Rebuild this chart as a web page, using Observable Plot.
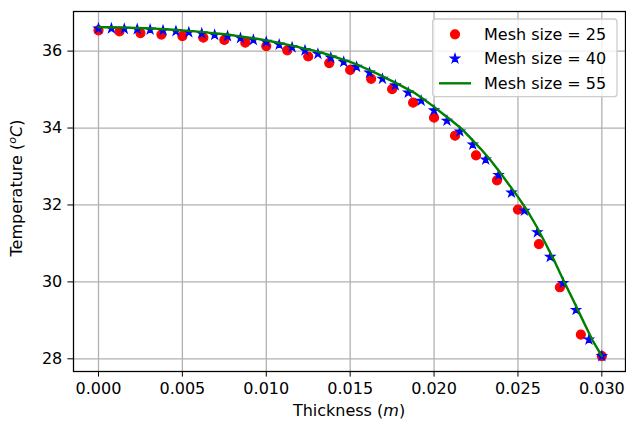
<!DOCTYPE html>
<html><head><meta charset="utf-8">
<script src="https://cdn.jsdelivr.net/npm/d3@7"></script>
<script src="https://cdn.jsdelivr.net/npm/@observablehq/plot@0.6"></script>
<style>
body{margin:0;background:#fff;}
#chart{position:relative;width:626px;height:426px;}
</style></head><body><div id="chart"></div>
<script>
// Wall thickness (m) and mesh sizes
const thickness = 0.030;
const meshSizes = [25, 40, 55];
const seriesLabels = ["Mesh size = 25", "Mesh size = 40", "Mesh size = 55"];
const xTicks = [0, 0.005, 0.010, 0.015, 0.020, 0.025, 0.030];
const yTicks = [28, 30, 32, 34, 36];

// Temperatures (°C)
const temp25 = [36.54,36.51,36.47,36.43,36.39,36.35,36.29,36.22,36.13,36.02,35.86,35.69,35.51,
  35.28,35.01,34.66,34.27,33.80,33.29,32.64,31.88,30.98,29.86,28.63,28.07];
const temp40 = [36.59,36.59,36.58,36.57,36.56,36.54,36.52,36.49,36.46,36.42,36.39,36.34,36.29,
  36.24,36.17,36.10,36.02,35.93,35.83,35.72,35.59,35.44,35.28,35.11,34.92,34.71,34.46,34.19,
  33.91,33.57,33.18,32.78,32.32,31.85,31.29,30.65,29.97,29.27,28.50,28.07];
const temp55 = [36.62,36.62,36.615,36.61,36.60,36.595,36.585,36.57,36.555,36.54,36.52,36.50,
  36.475,36.45,36.425,36.39,36.355,36.32,36.28,36.23,36.18,36.13,36.07,36.02,35.955,35.88,
  35.80,35.72,35.62,35.51,35.40,35.28,35.16,35.03,34.90,34.73,34.55,34.36,34.17,33.97,33.72,
  33.46,33.18,32.87,32.54,32.21,31.85,31.44,30.98,30.50,29.98,29.49,28.98,28.48,28.07];

// mesh node positions: uniform nodes across the thickness
const nodes = (vals) => vals.map((t, i) => ({x: i * thickness / (vals.length - 1), t}));
const d25 = nodes(temp25), d40 = nodes(temp40), d55 = nodes(temp55);

const FONT = "DejaVu Sans";
const FS = 16;

const plot = Plot.plot({
  width: 626, height: 426,
  marginLeft: 73, marginRight: 1, marginTop: 11, marginBottom: 55,
  style: {fontFamily: FONT, fontSize: FS + "px", color: "#000", background: "#fff", overflow: "visible"},
  x: {domain: [-0.00149, 0.03141], ticks: xTicks, tickFormat: d3.format(".3f"), tickSize: 5.6, tickPadding: 5.6, label: null},
  y: {domain: [27.67, 37.03], ticks: yTicks, tickFormat: d3.format("d"), tickSize: 5.6, tickPadding: 5.6, label: null},
  marks: [
    Plot.ruleX(xTicks, {stroke: "#b0b0b0", strokeWidth: 1.28}),
    Plot.ruleY(yTicks, {stroke: "#b0b0b0", strokeWidth: 1.28}),
    Plot.dot(d25, {x: "x", y: "t", r: 4.5, symbol: "circle", fill: "red", stroke: "red", strokeWidth: 1.2}),
    Plot.dot(d40, {x: "x", y: "t", r: 2.8, symbol: "star", fill: "blue", stroke: "blue", strokeWidth: 1.2}),
    Plot.line(d55, {x: "x", y: "t", stroke: "#008000", strokeWidth: 2.4}),
    Plot.frame({stroke: "black", strokeWidth: 1.28})
  ]
});
document.getElementById("chart").appendChild(plot);

const svg = d3.select(plot);
// axis titles
const xl = svg.append("text").attr("x", 349).attr("y", 416).attr("text-anchor", "middle")
  .attr("font-family", FONT).attr("font-size", FS).attr("fill", "#000");
xl.append("tspan").text("Thickness (");
xl.append("tspan").attr("font-style", "italic").text("m");
xl.append("tspan").text(")");

const yl = svg.append("text").attr("transform", "translate(22,188) rotate(-90)").attr("text-anchor", "middle")
  .attr("font-family", FONT).attr("font-size", FS).attr("fill", "#000");
yl.append("tspan").text("Temperature (");
yl.append("tspan").attr("font-style", "italic").attr("font-size", FS * 0.7).attr("dy", -6).text("o");
yl.append("tspan").attr("font-style", "italic").attr("dy", 6).text("C");
yl.append("tspan").text(")");

// legend
const lg = svg.append("g").attr("text-anchor", "start");
lg.append("rect").attr("x", 432.7).attr("y", 19).attr("width", 184.3).attr("height", 77.7).attr("rx", 3)
  .attr("fill", "white").attr("fill-opacity", 0.8).attr("stroke", "#cccccc").attr("stroke-width", 1.28);
const rowY = [34.3, 58.6, 83.3];
lg.append("circle").attr("cx", 455).attr("cy", rowY[0]).attr("r", 4.5).attr("fill", "red").attr("stroke", "red").attr("stroke-width", 1.2);
lg.append("path").attr("d", d3.symbol(d3.symbolStar, Math.PI * 2.8 * 2.8)()).attr("transform", `translate(455,${rowY[1]})`)
  .attr("fill", "blue").attr("stroke", "blue").attr("stroke-width", 1.2);
lg.append("line").attr("x1", 439).attr("x2", 471).attr("y1", rowY[2]).attr("y2", rowY[2]).attr("stroke", "#008000").attr("stroke-width", 2.4);
seriesLabels.forEach((s, i) => {
  lg.append("text").attr("x", 484).attr("y", rowY[i]).attr("dy", "0.36em").attr("text-anchor", "start")
    .attr("font-family", FONT).attr("font-size", FS).attr("fill", "#000").text(s);
});
</script></body></html>
